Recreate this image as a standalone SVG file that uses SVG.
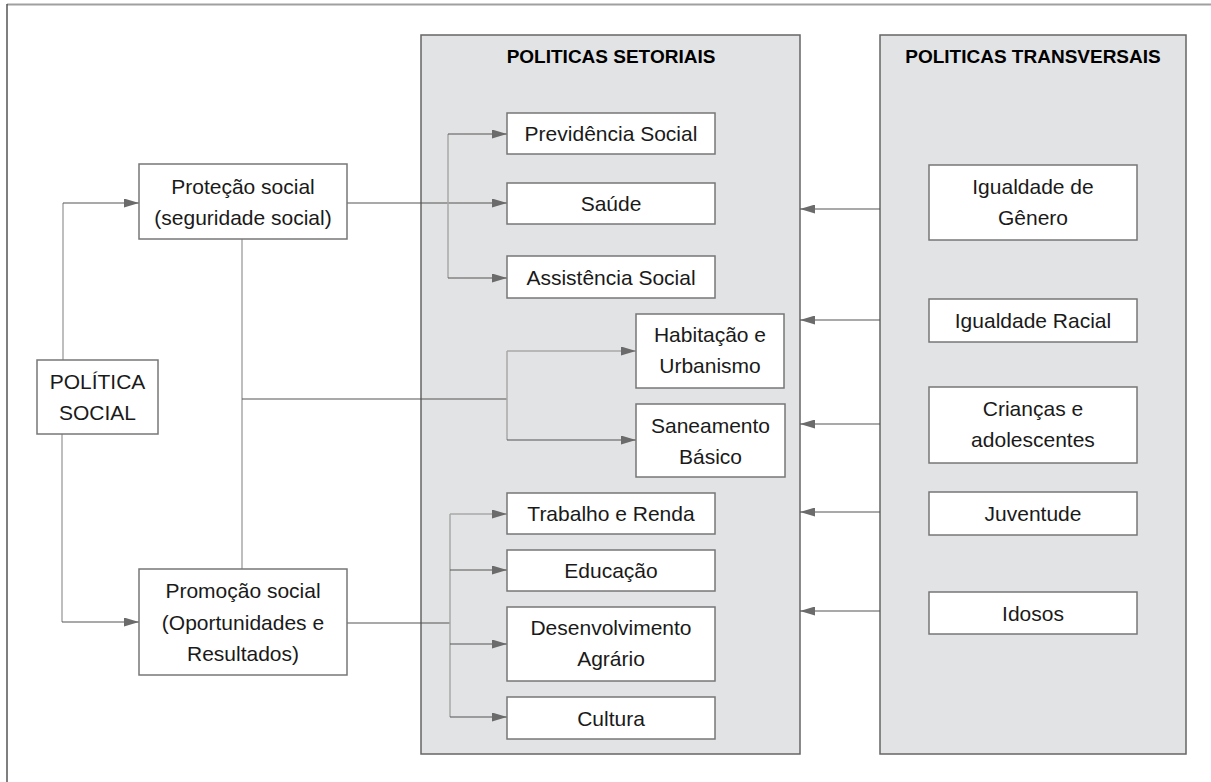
<svg xmlns="http://www.w3.org/2000/svg" width="1211" height="782" viewBox="0 0 1211 782">
<defs>
<style>
text{font-family:"Liberation Sans",Arial,sans-serif;font-size:21px;fill:#1a1a1a;text-anchor:middle}
.title{font-weight:bold;font-size:19px;fill:#000}
.panel{fill:#e2e3e5;stroke:#666;stroke-width:1.5}
.box{fill:#fff;stroke:#777;stroke-width:1.5}
.dk{stroke:#555;stroke-width:1.2;fill:none}
.lt{stroke:#a8a8a8;stroke-width:1.5;fill:none}
.arr{marker-end:url(#ah)}
</style>
<marker id="ah" markerUnits="userSpaceOnUse" markerWidth="15" markerHeight="9" refX="15" refY="4.5" orient="auto">
<path d="M0,0 L15,4.5 L0,9 z" fill="#6b6b6b"/>
</marker>
</defs>
<rect width="1211" height="782" fill="#fff"/>
<g id="frame">
<line x1="7" y1="4.5" x2="1211" y2="4.5" stroke="#a0a0a0" stroke-width="2"/>
<line x1="7" y1="4" x2="7" y2="782" stroke="#555" stroke-width="1.5"/>
</g>
<g id="panel-setoriais">
<rect class="panel" x="421" y="35" width="379" height="719"/>
<text class="title" x="611" y="63">POLITICAS SETORIAIS</text>
</g>
<g id="panel-transversais">
<rect class="panel" x="880" y="35" width="306" height="719"/>
<text class="title" x="1033" y="63">POLITICAS TRANSVERSAIS</text>
</g>
<g id="connectors">
<path class="lt" d="M63,360 V203"/>
<path class="dk arr" d="M63,203 H139"/>
<path class="lt" d="M62,434 V622"/>
<path class="dk arr" d="M62,622 H139"/>
<path class="lt" d="M242,239 V569"/>
<path class="dk arr" d="M347,203 H507"/>
<path class="lt" d="M448,134 V278"/>
<path class="dk arr" d="M448,134 H507"/>
<path class="dk arr" d="M448,278 H507"/>
<path class="dk" d="M242,399 H507"/>
<path class="lt" d="M507,351 V440"/>
<path class="lt arr" d="M507,351 H636"/>
<path class="dk arr" d="M507,440 H636"/>
<path class="dk" d="M347,623 H450"/>
<path class="lt" d="M450,514 V717"/>
<path class="lt arr" d="M450,514 H507"/>
<path class="dk arr" d="M450,570 H507"/>
<path class="dk arr" d="M450,644 H507"/>
<path class="dk arr" d="M450,717 H507"/>
<path class="dk arr" d="M880,209 H800"/>
<path class="dk arr" d="M880,320 H800"/>
<path class="dk arr" d="M880,424 H800"/>
<path class="dk arr" d="M880,512 H800"/>
<path class="dk arr" d="M880,611 H800"/>
</g>
<g id="politica-social">
<rect class="box" x="37" y="360" width="121" height="74"/>
<text x="97.5" y="389">POLÍTICA</text>
<text x="97.5" y="420">SOCIAL</text>
</g>
<g id="protecao-social">
<rect class="box" x="139" y="164" width="208" height="75"/>
<text x="243" y="194">Proteção social</text>
<text x="243" y="225">(seguridade social)</text>
</g>
<g id="promocao-social">
<rect class="box" x="139" y="569" width="208" height="106"/>
<text x="243" y="598">Promoção social</text>
<text x="243" y="630">(Oportunidades e</text>
<text x="243" y="661">Resultados)</text>
</g>
<g id="previdencia">
<rect class="box" x="507" y="113" width="208" height="41"/>
<text x="611" y="141">Previdência Social</text>
</g>
<g id="saude">
<rect class="box" x="507" y="183" width="208" height="41"/>
<text x="611" y="211">Saúde</text>
</g>
<g id="assistencia">
<rect class="box" x="507" y="256" width="208" height="42"/>
<text x="611" y="284.5">Assistência Social</text>
</g>
<g id="habitacao">
<rect class="box" x="636" y="314" width="148" height="74"/>
<text x="710" y="342">Habitação e</text>
<text x="710" y="373">Urbanismo</text>
</g>
<g id="saneamento">
<rect class="box" x="636" y="404" width="149" height="73"/>
<text x="710.5" y="433">Saneamento</text>
<text x="710.5" y="464">Básico</text>
</g>
<g id="trabalho">
<rect class="box" x="507" y="493" width="208" height="41"/>
<text x="611" y="521">Trabalho e Renda</text>
</g>
<g id="educacao">
<rect class="box" x="507" y="550" width="208" height="41"/>
<text x="611" y="578">Educação</text>
</g>
<g id="desenvolvimento">
<rect class="box" x="507" y="607" width="208" height="74"/>
<text x="611" y="635">Desenvolvimento</text>
<text x="611" y="666">Agrário</text>
</g>
<g id="cultura">
<rect class="box" x="507" y="697" width="208" height="42"/>
<text x="611" y="725.5">Cultura</text>
</g>
<g id="genero">
<rect class="box" x="929" y="165" width="208" height="75"/>
<text x="1033" y="194">Igualdade de</text>
<text x="1033" y="225">Gênero</text>
</g>
<g id="racial">
<rect class="box" x="929" y="299" width="208" height="43"/>
<text x="1033" y="328">Igualdade Racial</text>
</g>
<g id="criancas">
<rect class="box" x="929" y="387" width="208" height="76"/>
<text x="1033" y="416">Crianças e</text>
<text x="1033" y="447">adolescentes</text>
</g>
<g id="juventude">
<rect class="box" x="929" y="492" width="208" height="43"/>
<text x="1033" y="521">Juventude</text>
</g>
<g id="idosos">
<rect class="box" x="929" y="592" width="208" height="42"/>
<text x="1033" y="620.5">Idosos</text>
</g>
</svg>
